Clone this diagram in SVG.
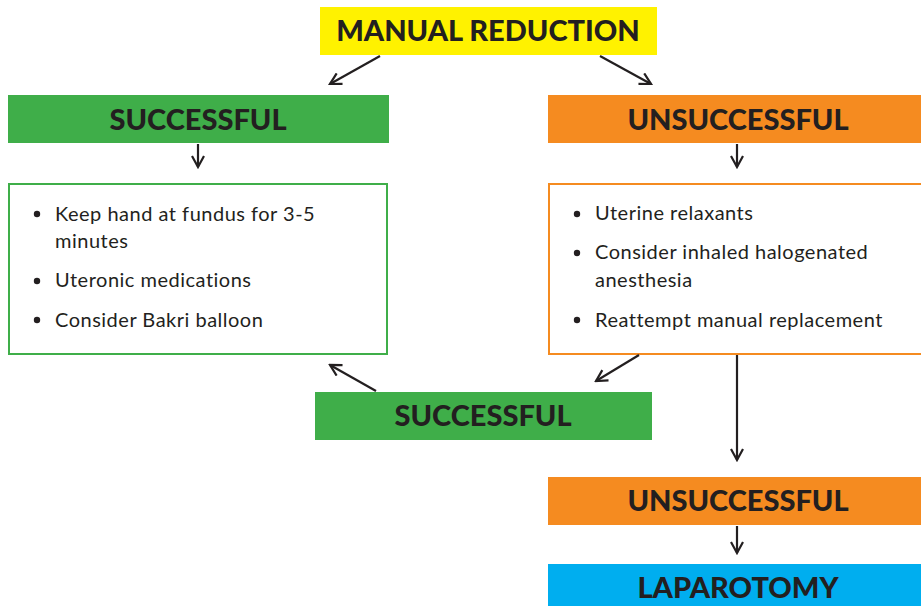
<svg xmlns="http://www.w3.org/2000/svg" width="921" height="606" viewBox="0 0 921 606">
<defs>
<marker id="ah" viewBox="0 0 14 14" refX="12" refY="7" markerWidth="14" markerHeight="14" markerUnits="userSpaceOnUse" orient="auto">
<path d="M1,1 L12,7 L1,13" fill="none" stroke="#231F20" stroke-width="2.2"/>
</marker>
<style>
.h{font-family:Lato,"Open Sans",sans-serif;font-weight:900;font-size:29px;fill:#231F20;text-anchor:middle}
.b{font-family:Lato,"Noto Sans",sans-serif;font-size:20px;letter-spacing:0.5px;fill:#231F20}
.c{stroke:#231F20;stroke-width:2.2;fill:none;marker-end:url(#ah)}
</style>
</defs>
<rect width="921" height="606" fill="#fff"/>
<g id="manual"><rect x="320" y="7" width="337" height="48" fill="#FFF200"/><text class="h" x="488" y="41">MANUAL REDUCTION</text></g>
<g id="succ1"><rect x="8" y="95" width="381" height="48" fill="#3FAE49"/><text class="h" x="198" y="130">SUCCESSFUL</text></g>
<g id="unsucc1"><rect x="548" y="95" width="373" height="48" fill="#F58B20"/><text class="h" x="738" y="130">UNSUCCESSFUL</text></g>
<g id="leftbox"><rect x="9" y="184" width="378" height="170" fill="#fff" stroke="#3FAE49" stroke-width="2"/>
<circle cx="37" cy="214" r="3.2" fill="#231F20"/><text class="b" x="55" y="221">Keep hand at fundus for 3-5</text><text class="b" x="55" y="248">minutes</text>
<circle cx="37" cy="281" r="3.2" fill="#231F20"/><text class="b" x="55" y="287">Uteronic medications</text>
<circle cx="37" cy="320" r="3.2" fill="#231F20"/><text class="b" x="55" y="327">Consider Bakri balloon</text></g>
<g id="rightbox"><rect x="549" y="184" width="380" height="170" fill="#fff" stroke="#F58B20" stroke-width="2"/>
<circle cx="577" cy="214" r="3.2" fill="#231F20"/><text class="b" x="595" y="220">Uterine relaxants</text>
<circle cx="577" cy="253" r="3.2" fill="#231F20"/><text class="b" x="595" y="259">Consider inhaled halogenated</text><text class="b" x="595" y="287">anesthesia</text>
<circle cx="577" cy="320" r="3.2" fill="#231F20"/><text class="b" x="595" y="327">Reattempt manual replacement</text></g>
<g id="succ2"><rect x="315" y="392" width="337" height="48" fill="#3FAE49"/><text class="h" x="483" y="426">SUCCESSFUL</text></g>
<g id="unsucc2"><rect x="548" y="477" width="373" height="48" fill="#F58B20"/><text class="h" x="738" y="511">UNSUCCESSFUL</text></g>
<g id="lap"><rect x="548" y="564" width="373" height="42" fill="#00AEEF"/><text class="h" x="738" y="598">LAPAROTOMY</text></g>
<g id="connectors">
<line class="c" x1="380" y1="56" x2="330" y2="84"/>
<line class="c" x1="600" y1="56" x2="651" y2="84"/>
<line class="c" x1="198" y1="144" x2="198" y2="167"/>
<line class="c" x1="737" y1="144" x2="737" y2="167"/>
<line class="c" x1="376" y1="391" x2="330" y2="365"/>
<line class="c" x1="639" y1="355" x2="596" y2="381"/>
<line class="c" x1="737" y1="355" x2="737" y2="460"/>
<line class="c" x1="737" y1="526" x2="737" y2="553"/>
</g>
</svg>
